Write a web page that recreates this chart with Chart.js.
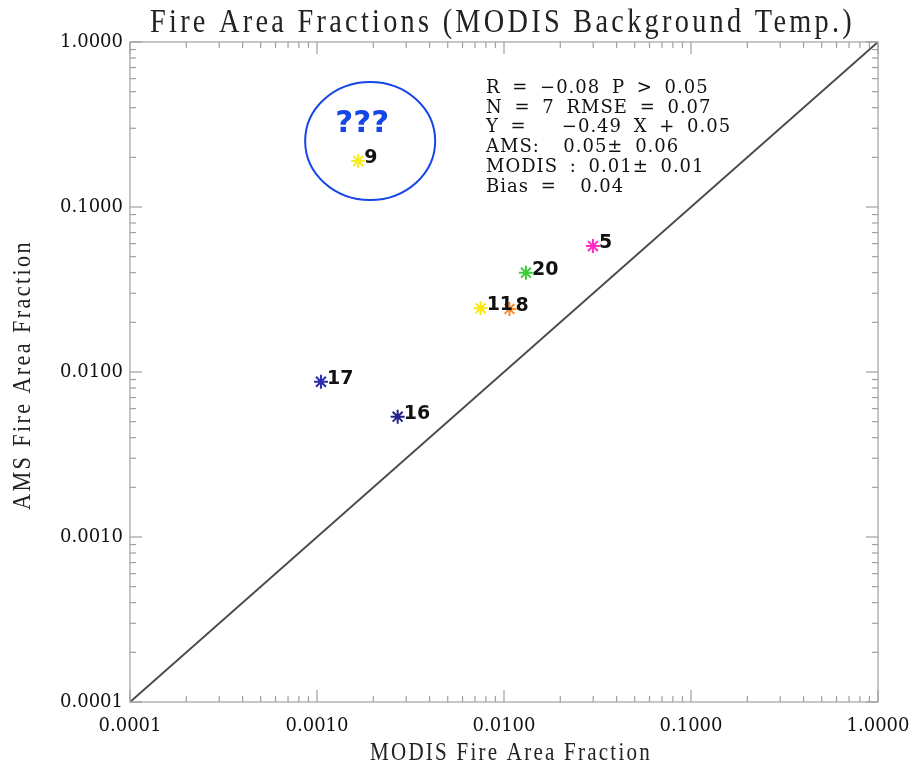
<!DOCTYPE html>
<html>
<head>
<meta charset="utf-8">
<title>Fire Area Fractions</title>
<script src="https://cdn.jsdelivr.net/npm/chart.js@4.4.1/dist/chart.umd.min.js"></script>
<style>
  html, body { margin: 0; padding: 0; background: #fff; }
  canvas { display: block; }
</style>
</head>
<body>
<canvas id="fireChart" width="916" height="768"></canvas>
<script>
/* global Chart */

// Case numbers shown next to each point.
var categories = [ '9', '5', '20', '11', '8', '17', '16' ];

// MODIS (x) and AMS (y) fire area fractions.
var modisFraction = [ 0.00166, 0.0299, 0.0131, 0.0075, 0.0107, 0.00105, 0.0027 ];
var amsFraction = [ 0.190, 0.058, 0.040, 0.0243, 0.0241, 0.00873, 0.00536 ];

var pointColors = [ '#f6ee1c', '#ff2bc6', '#3dcc3d', '#fbe80e', '#ff8a2a', '#2b2bb0', '#20208f' ];

// Decade ticks used on both axes.
var axisTicks = [ 0.0001, 0.001, 0.01, 0.1, 1 ];

var statLines = [
	'R = \u22120.08 P > 0.05',
	'N = 7 RMSE = 0.07',
	'Y =   \u22120.49 X + 0.05',
	'AMS:  0.05\u00b1 0.06',
	'MODIS : 0.01\u00b1 0.01',
	'Bias =  0.04'
];

var chartTitle = 'Fire Area Fractions (MODIS Background Temp.)';
var xTitle = 'MODIS Fire Area Fraction';
var yTitle = 'AMS Fire Area Fraction';

function line( ctx, x1, y1, x2, y2 ) {
	ctx.beginPath();
	ctx.moveTo( x1, y1 );
	ctx.lineTo( x2, y2 );
	ctx.stroke();
}

// Draw text stretched to a given width (the IDL fonts are tall and spaced out).
function stretchedText( ctx, text, x, y, width, sy ) {
	var w = ctx.measureText( text ).width;
	ctx.save();
	ctx.translate( x, y );
	ctx.scale( width / w, sy );
	ctx.fillText( text, 0, 0 );
	ctx.restore();
}

var decorPlugin = {
	id: 'decor',
	afterDatasetsDraw: function ( chart ) {
		var ctx = chart.ctx;
		var area = chart.chartArea;
		var xs = chart.scales.x;
		var ys = chart.scales.y;

		ctx.save();

		// Frame and inward ticks on all four sides.
		ctx.strokeStyle = '#a0a0a0';
		ctx.lineWidth = 1.2;
		ctx.strokeRect( area.left, area.top, area.right - area.left, area.bottom - area.top );
		axisTicks.forEach( function ( dec ) {
			for ( var m = 1; m <= 9; m++ ) {
				var v = dec * m;
				if ( v > xs.max * 1.0001 ) break;
				var len = m === 1 ? 12 : 6;
				var px = xs.getPixelForValue( v );
				line( ctx, px, area.bottom, px, area.bottom - len );
				line( ctx, px, area.top, px, area.top + len );
				var py = ys.getPixelForValue( v );
				line( ctx, area.left, py, area.left + len, py );
				line( ctx, area.right, py, area.right - len, py );
			}
		} );

		// Case labels beside the markers.
		var meta = chart.getDatasetMeta( 0 );
		ctx.fillStyle = '#111';
		ctx.font = 'bold 19px "DejaVu Sans"';
		ctx.textAlign = 'left';
		ctx.textBaseline = 'alphabetic';
		meta.data.forEach( function ( pt, i ) {
			ctx.fillText( categories[ i ], pt.x + 6, pt.y + 2 );
		} );

		// Blue circle round case 9.
		var p9 = meta.data[ 0 ];
		ctx.strokeStyle = '#1646e8';
		ctx.lineWidth = 2;
		ctx.beginPath();
		ctx.ellipse( p9.x + 12, p9.y - 20, 65, 59, 0, 0, Math.PI * 2 );
		ctx.stroke();
		ctx.fillStyle = '#1646e8';
		ctx.font = 'bold 31px "DejaVu Sans"';
		ctx.textAlign = 'center';
		ctx.fillText( '???', p9.x + 4, p9.y - 29 );

		// Statistics block.
		ctx.fillStyle = '#111';
		ctx.font = '18px "DejaVu Serif"';
		ctx.letterSpacing = '1px';
		ctx.wordSpacing = '5px';
		ctx.textAlign = 'left';
		statLines.forEach( function ( s, i ) {
			ctx.fillText( s, area.left + 356, area.top + 51 + i * 19.7 );
		} );
		ctx.wordSpacing = '0px';

		// Titles.
		ctx.fillStyle = '#222';
		ctx.letterSpacing = '3px';
		ctx.font = '26px "Liberation Serif"';
		stretchedText( ctx, chartTitle, 150, 32, 705, 1.3 );
		ctx.letterSpacing = '2px';
		ctx.font = '19px "Liberation Serif"';
		stretchedText( ctx, xTitle, 370, 760, 282, 1.3 );
		ctx.save();
		ctx.translate( 30, 510 );
		ctx.rotate( -Math.PI / 2 );
		stretchedText( ctx, yTitle, 0, 0, 270, 1.3 );
		ctx.restore();
		ctx.letterSpacing = '0px';

		ctx.restore();
	}
};

function logAxis( position, size, padding ) {
	return {
		type: 'logarithmic',
		position: position,
		min: 0.0001,
		max: 1,
		afterBuildTicks: function ( scale ) {
			scale.ticks = axisTicks.map( function ( v ) {
				return { value: v };
			} );
		},
		afterFit: function ( scale ) {
			if ( position === 'left' ) {
				scale.width = size;
			} else {
				scale.height = size;
			}
			// let layout padding alone decide the plot edges
			scale.paddingLeft = 0;
			scale.paddingRight = 0;
			scale.paddingTop = 0;
			scale.paddingBottom = 0;
		},
		ticks: {
			autoSkip: false,
			maxRotation: 0,
			padding: padding,
			color: '#111',
			font: { family: 'DejaVu Serif', size: 18 },
			callback: function ( value ) {
				return Number( value ).toFixed( 4 );
			}
		},
		grid: { display: false, drawTicks: false },
		border: { display: false }
	};
}

new Chart( document.getElementById( 'fireChart' ), {
	type: 'scatter',
	data: {
		datasets: [
			{
				data: modisFraction.map( function ( x, i ) {
					return { x: x, y: amsFraction[ i ] };
				} ),
				pointStyle: 'star',
				pointRadius: 7,
				pointBorderWidth: 2,
				pointBorderColor: pointColors,
				pointBackgroundColor: pointColors
			},
			{
				// 1:1 line
				data: [
					{ x: axisTicks[ 0 ], y: axisTicks[ 0 ] },
					{ x: axisTicks[ axisTicks.length - 1 ], y: axisTicks[ axisTicks.length - 1 ] }
				],
				showLine: true,
				borderColor: '#4a4a4a',
				borderWidth: 2,
				pointRadius: 0
			}
		]
	},
	options: {
		responsive: false,
		animation: false,
		devicePixelRatio: 1,
		layout: { padding: { top: 42, right: 38, left: 0, bottom: 0 } },
		plugins: {
			legend: { display: false },
			tooltip: { enabled: false }
		},
		scales: {
			x: logAxis( 'bottom', 66, 14 ),
			y: logAxis( 'left', 130, 7 )
		}
	},
	plugins: [ decorPlugin ]
} );
</script>
</body>
</html>
